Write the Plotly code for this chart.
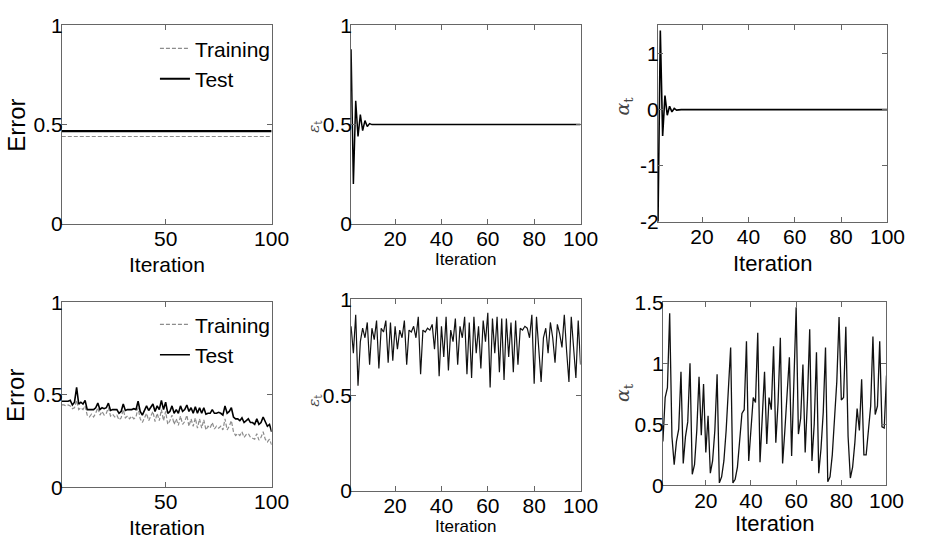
import plotly.graph_objects as go

W, H = 929, 550
NARROW = "Liberation Sans Narrow, Arial Narrow, Liberation Sans, Arial, sans-serif"
SANS = "Liberation Sans, Arial, sans-serif"
SERIF = "DejaVu Serif, Liberation Serif, serif"

iterations = list(range(1, 101))

# ---- top row: run that stalls at chance level ----
train_err_a = [0.44] * 100
test_err_a = [0.467] * 100
eps_a = [0.88, 0.20, 0.62, 0.44, 0.55, 0.47, 0.52, 0.49, 0.505] + [0.50] * 91
alpha_a = [-2.0, 1.41, -0.47, 0.25, -0.10, 0.06, -0.04, 0.02, -0.01] + [0.0] * 91

# ---- bottom row: run that keeps learning ----
train_err_b = [
    0.445, 0.445, 0.44, 0.445, 0.44, 0.425, 0.43, 0.47, 0.42, 0.43,
    0.42, 0.44, 0.39, 0.38, 0.395, 0.38, 0.40, 0.43, 0.39, 0.41,
    0.39, 0.40, 0.43, 0.385, 0.395, 0.38, 0.39, 0.365, 0.375, 0.42,
    0.375, 0.385, 0.37, 0.385, 0.37, 0.38, 0.43, 0.37, 0.35, 0.38,
    0.40, 0.36, 0.39, 0.41, 0.355, 0.40, 0.36, 0.42, 0.36, 0.41,
    0.34, 0.36, 0.39, 0.34, 0.37, 0.335, 0.385, 0.34, 0.355, 0.39,
    0.33, 0.37, 0.33, 0.375, 0.32, 0.37, 0.32, 0.365, 0.31, 0.33,
    0.32, 0.35, 0.315, 0.33, 0.32, 0.33, 0.31, 0.37, 0.31, 0.33,
    0.36, 0.30, 0.28, 0.29, 0.28, 0.30, 0.27, 0.285, 0.29, 0.27,
    0.265, 0.26, 0.29, 0.255, 0.27, 0.30, 0.26, 0.245, 0.26, 0.23,
]
test_err_b = [
    0.465, 0.465, 0.465, 0.465, 0.47, 0.445, 0.46, 0.54, 0.45, 0.46,
    0.45, 0.47, 0.42, 0.42, 0.42, 0.42, 0.43, 0.455, 0.42, 0.43,
    0.425, 0.43, 0.455, 0.415, 0.42, 0.42, 0.42, 0.40, 0.41, 0.45,
    0.415, 0.42, 0.42, 0.42, 0.425, 0.42, 0.465, 0.41, 0.39, 0.42,
    0.44, 0.415, 0.43, 0.45, 0.41, 0.44, 0.42, 0.47, 0.42, 0.46,
    0.40, 0.41, 0.44, 0.40, 0.42, 0.40, 0.44, 0.41, 0.42, 0.445,
    0.41, 0.43, 0.40, 0.435, 0.40, 0.43, 0.40, 0.43, 0.395, 0.40,
    0.40, 0.42, 0.40, 0.40, 0.405, 0.40, 0.39, 0.44, 0.40, 0.41,
    0.43, 0.38, 0.37, 0.37, 0.36, 0.375, 0.35, 0.36, 0.37, 0.35,
    0.35, 0.34, 0.37, 0.34, 0.35, 0.38, 0.35, 0.33, 0.34, 0.30,
]
eps_b = [
    0.86, 0.72, 0.92, 0.55, 0.78, 0.85, 0.80, 0.88, 0.66, 0.85,
    0.79, 0.89, 0.64, 0.85, 0.83, 0.89, 0.67, 0.88, 0.68, 0.86,
    0.74, 0.84, 0.80, 0.89, 0.66, 0.84, 0.83, 0.86, 0.80, 0.91,
    0.61, 0.84, 0.83, 0.85, 0.84, 0.87, 0.74, 0.91, 0.60, 0.86,
    0.70, 0.91, 0.63, 0.84, 0.78, 0.90, 0.66, 0.86, 0.80, 0.91,
    0.61, 0.88, 0.59, 0.91, 0.72, 0.86, 0.64, 0.89, 0.78, 0.93,
    0.54, 0.90, 0.72, 0.91, 0.62, 0.90, 0.58, 0.90, 0.70, 0.88,
    0.62, 0.89, 0.66, 0.85, 0.84, 0.86, 0.85, 0.80, 0.92, 0.56,
    0.91, 0.74, 0.57, 0.80, 0.85, 0.72, 0.88, 0.80, 0.67, 0.87,
    0.82, 0.75, 0.92, 0.73, 0.57, 0.91, 0.75, 0.59, 0.89, 0.66,
]
alpha_b = [
    0.36, 0.72, 0.80, 1.41, 0.40, 0.17, 0.36, 0.46, 0.93, 0.18,
    0.40, 0.52, 1.00, 0.09, 0.17, 0.45, 0.89, 0.41, 0.83, 0.27,
    0.57, 0.10, 0.20, 0.45, 0.91, 0.02, 0.07, 0.20, 0.45, 0.75,
    1.13, 0.02, 0.05, 0.15, 0.35, 0.59, 0.62, 1.18, 0.20, 0.50,
    0.72, 0.68, 1.25, 0.19, 0.55, 0.93, 0.34, 0.72, 0.62, 1.14,
    0.35, 0.68, 1.21, 0.18, 0.45, 0.75, 1.05, 0.24, 0.85, 1.46,
    0.42, 0.55, 0.99, 0.27, 0.70, 1.28, 0.20, 0.50, 1.09, 0.10,
    0.30, 0.60, 1.13, 0.03, 0.07, 0.25, 0.55, 0.85, 1.38, 0.70,
    0.72, 1.30, 0.40, 0.06, 0.15, 0.35, 0.63, 0.45, 0.87, 0.25,
    0.25, 0.45, 0.65, 1.22, 0.58, 0.65, 1.18, 0.48, 0.47, 0.90,
]

# tick settings
err_ticks = [0, 0.5, 1]
err_ticktext = ["0", "0.5", "1"]
iter_ticks_coarse = [50, 100]
iter_ticks_fine = [20, 40, 60, 80, 100]
alpha_a_ticks = [-2, -1, 0, 1]
alpha_b_ticks = [0, 0.5, 1, 1.5]
alpha_b_ticktext = ["0", "0.5", "1", "1.5"]

# panel boxes in pixels: left, right, top, bottom
boxes = {
    1: (63, 277, 14, 221),
    2: (358, 592, 14, 221),
    3: (671, 905, 14, 219),
    4: (63, 277, 303, 496),
    5: (358, 592, 300, 500),
    6: (676, 904, 303, 494),
}

fig = go.Figure()

BLACK = "#000000"
GRAY = "#8c8c8c"

def add(x, y, panel, color, width, dash="solid", name=None, legend=None):
    suffix = "" if panel == 1 else str(panel)
    fig.add_trace(go.Scatter(
        x=x, y=y, mode="lines", name=name,
        line=dict(color=color, width=width, dash=dash),
        xaxis="x" + suffix, yaxis="y" + suffix,
        showlegend=legend is not None,
        legend=legend if legend else "legend",
        hoverinfo="skip",
    ))

add(iterations, train_err_a, 1, GRAY, 1.2, "4px,2px", "Training", "legend")
add(iterations, test_err_a, 1, BLACK, 2.2, "solid", "Test", "legend")
add(iterations, eps_a, 2, BLACK, 1.5)
add(iterations, alpha_a, 3, BLACK, 1.6)
add(iterations, train_err_b, 4, GRAY, 1.2, "4px,2px", "Training", "legend2")
add(iterations, test_err_b, 4, BLACK, 1.6, "solid", "Test", "legend2")
add(iterations, eps_b, 5, "#111111", 1.2)
add(iterations, alpha_b, 6, "#111111", 1.3)

axis_common = dict(
    showline=True, linecolor="#666666", linewidth=1, mirror="allticks",
    ticks="inside", ticklen=5, tickcolor="#666666", tickwidth=1,
    showgrid=False, zeroline=False, fixedrange=True,
    tickfont=dict(family=NARROW, size=21, color="black"),
)

yspec = {
    1: ([0, 1], err_ticks, err_ticktext),
    2: ([0, 1], err_ticks, err_ticktext),
    3: ([-2, 1.5], alpha_a_ticks, [str(v) for v in alpha_a_ticks]),
    4: ([0, 1], err_ticks, err_ticktext),
    5: ([0, 1], err_ticks, err_ticktext),
    6: ([0, 1.5], alpha_b_ticks, alpha_b_ticktext),
}
xspec = {
    1: iter_ticks_coarse, 2: iter_ticks_fine, 3: iter_ticks_fine,
    4: iter_ticks_coarse, 5: iter_ticks_fine, 6: iter_ticks_fine,
}

layout_axes = {}
for p, (l, r, t, b) in boxes.items():
    suffix = "" if p == 1 else str(p)
    yr, yt, ytt = yspec[p]
    layout_axes["xaxis" + suffix] = dict(
        axis_common, domain=[l / W, r / W], range=[1, 100],
        tickvals=xspec[p], ticktext=[str(v) for v in xspec[p]],
        anchor="y" + suffix, ticklabelstandoff=-4,
    )
    layout_axes["yaxis" + suffix] = dict(
        axis_common, domain=[1 - b / H, 1 - t / H], range=yr,
        tickvals=yt, ticktext=ytt, anchor="x" + suffix,
        ticklabelstandoff=-6,
    )

annotations = []

def label(text, px, py, size, family, angle=0, color="black"):
    annotations.append(dict(
        text=text, x=px / W, y=1 - py / H, xref="paper", yref="paper",
        showarrow=False, textangle=angle, xanchor="center", yanchor="middle",
        font=dict(family=family, size=size, color=color),
    ))

# x-axis titles
label("Iteration", 170, 263, 21, NARROW)
label("Iteration", 475, 258, 17, NARROW)
label("Iteration", 788, 262, 22, NARROW)
label("Iteration", 170, 538, 21, NARROW)
label("Iteration", 475, 537, 17, NARROW)
label("Iteration", 790, 534, 22, NARROW)

# y-axis titles
label("Error", 16, 118, 24, SANS, -90)
label("Error", 16, 400, 24, SANS, -90)
label("<i>ε</i><sub>t</sub>", 320, 119, 15, SERIF, -90, "#444444")
label("<i>ε</i><sub>t</sub>", 320, 405, 15, SERIF, -90, "#444444")
label("<i>α</i><sub>t</sub>", 636, 98, 19, SERIF, -90, "#444444")
label("<i>α</i><sub>t</sub>", 636, 397, 19, SERIF, -90, "#444444")

legend_style = dict(
    font=dict(family=NARROW, size=21, color="black"),
    bgcolor="rgba(0,0,0,0)", borderwidth=0,
    xanchor="left", yanchor="top", itemclick=False, itemdoubleclick=False,
    tracegroupgap=0, itemwidth=30,
)

fig.update_layout(
    width=W, height=H,
    margin=dict(l=0, r=0, t=0, b=0),
    paper_bgcolor="white", plot_bgcolor="white",
    legend=dict(legend_style, x=158 / W, y=1 - 17 / H),
    legend2=dict(legend_style, x=158 / W, y=1 - 305 / H),
    annotations=annotations,
    **layout_axes,
)

fig.write_html("out.html", config={"displayModeBar": False})
